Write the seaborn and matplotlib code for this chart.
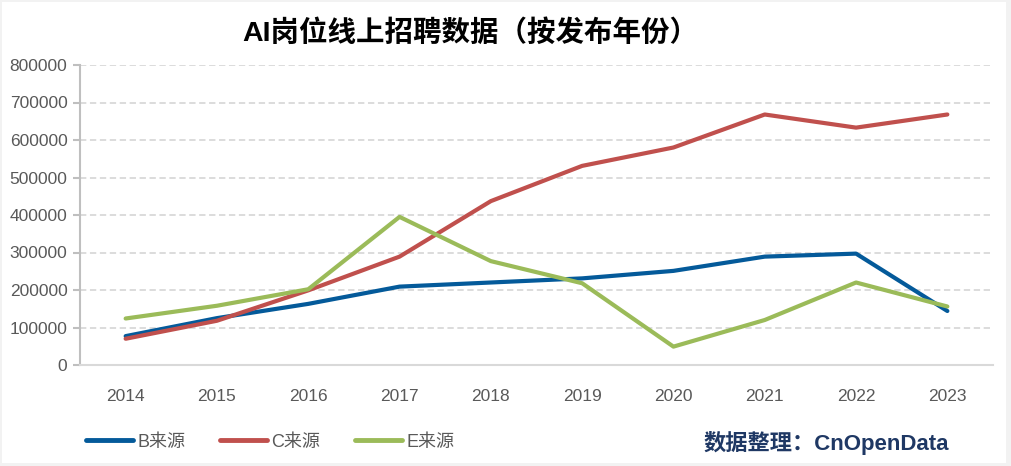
import matplotlib
matplotlib.use("Agg")
import matplotlib.pyplot as plt
import seaborn as sns
import pandas as pd
from matplotlib.patches import Rectangle

years = ["2014", "2015", "2016", "2017", "2018", "2019", "2020", "2021", "2022", "2023"]
b_values = [77000, 125000, 163000, 209000, 220000, 231000, 251000, 289000, 297000, 144000]
c_values = [70000, 118000, 199000, 289000, 437000, 531000, 580000, 668000, 633000, 668000]
e_values = [124000, 158000, 202000, 395000, 277000, 218000, 49000, 120000, 220000, 156000]
series_names = ["B来源", "C来源", "E来源"]
y_ticks = [0, 100000, 200000, 300000, 400000, 500000, 600000, 700000, 800000]
title_text = "AI岗位线上招聘数据（按发布年份）"
source_text = "数据整理：CnOpenData"

sns.set_theme(style="white")
plt.rcParams["font.family"] = ["Liberation Sans", "Noto Sans CJK SC", "DejaVu Sans"]

df = pd.DataFrame({
    "year": years * 3,
    "value": b_values + c_values + e_values,
    "series": [series_names[0]] * 10 + [series_names[1]] * 10 + [series_names[2]] * 10,
})
palette = {"B来源": "#045A9A", "C来源": "#C0504D", "E来源": "#9BBB59"}

W, H = 1011, 466
fig = plt.figure(figsize=(W / 100, H / 100), dpi=100)
fig.patch.set_facecolor("#F2F2F2")
bg = Rectangle((2 / W, 1 - 463 / H), (1006 - 2) / W, (463 - 2) / H,
               transform=fig.transFigure, facecolor="white",
               edgecolor="none", zorder=-10)
fig.add_artist(bg)

ax = fig.add_axes([80 / W, 1 - 365 / H, (993 - 80) / W, 300 / H])
ax.set_zorder(1)
ax.set_facecolor("none")
sns.lineplot(data=df, x="year", y="value", hue="series", palette=palette,
             linewidth=3.0, ax=ax, sort=False, legend=True)

ax.set_xlim(-0.5, 9.5)
ax.set_ylim(0, 800000)
ax.set_yticks(y_ticks)
ax.set_yticklabels([str(v) for v in y_ticks])
ax.set_xlabel("")
ax.set_ylabel("")
ax.yaxis.grid(True, color="#D9D9D9", linestyle=(0, (3.5, 2)), linewidth=1.3)
ax.set_axisbelow(True)
for s in ["top", "right"]:
    ax.spines[s].set_visible(False)
ax.spines["left"].set_color("#BFBFBF")
ax.spines["left"].set_linewidth(1.5)
ax.spines["bottom"].set_color("#D9D9D9")
ax.spines["bottom"].set_linewidth(1.5)
ax.tick_params(axis="y", left=True, length=5, width=1.5, color="#BFBFBF",
               pad=4, labelsize=12.5, labelcolor="#595959")
ax.tick_params(axis="x", bottom=False, length=0, pad=17, labelsize=12.5,
               labelcolor="#595959")

handles, labels = ax.get_legend_handles_labels()
ax.legend_.remove()
leg = fig.legend(handles, labels, loc="center left", bbox_to_anchor=(70 / W, 1 - 442 / H),
                 ncol=3, frameon=False, handlelength=2.6, handletextpad=0.25,
                 columnspacing=1.9, fontsize=13)
for t in leg.get_texts():
    t.set_color("#595959")
for l in leg.get_lines():
    l.set_linewidth(3.5)

fig.text(470 / W, 1 - 33 / H, title_text, ha="center", va="center",
         fontsize=20.5, fontweight="bold", color="#000000")
fig.text(949 / W, 1 - 443 / H, source_text, ha="right", va="center",
         fontsize=16, fontweight="bold", color="#1F3864")

fig.savefig("out.png", dpi=100)
